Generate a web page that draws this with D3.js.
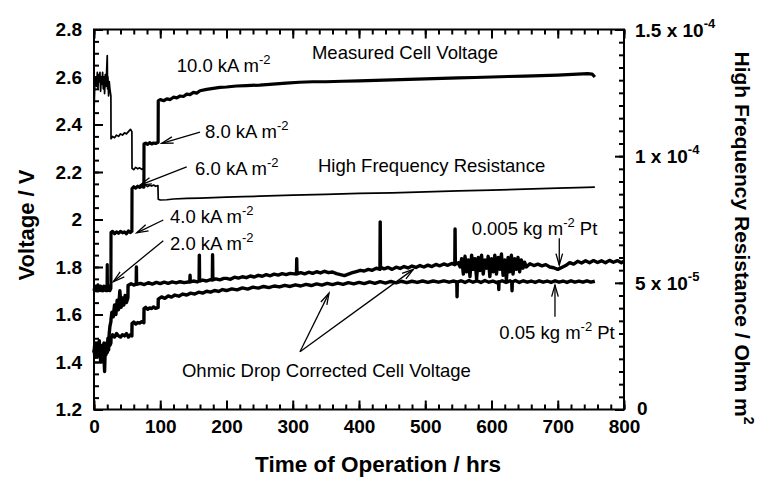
<!DOCTYPE html>
<html>
<head>
<meta charset="utf-8">
<script src="https://cdn.jsdelivr.net/npm/d3@7"></script>
<style>
  html, body { margin: 0; padding: 0; background: #fff; }
  svg { display: block; font-family: "Liberation Sans", Arial, Helvetica, sans-serif; }
</style>
</head>
<body>
<svg id="chart" width="762" height="478"></svg>
<script>
// ---- Axis ticks and labels ----
const hourTicks = [0, 100, 200, 300, 400, 500, 600, 700, 800];
const hourTickLabels = ["0", "100", "200", "300", "400", "500", "600", "700", "800"];
const voltTicks = [1.2, 1.4, 1.6, 1.8, 2.0, 2.2, 2.4, 2.6, 2.8];
const voltTickLabels = ["1.2", "1.4", "1.6", "1.8", "2", "2.2", "2.4", "2.6", "2.8"];
// right axis values are in units of 1e-5 Ohm m^2
const hfrTicks = [0, 5, 10, 15];
const hfrTickMantissa = ["0", "5 x 10", "1 x 10", "1.5 x 10"];
const hfrTickExponent = ["", "-5", "-4", "-4"];

// ---- Series: [hours, volts] ----
const measuredCellVoltage = [
  [0,1.70],[1,1.715],[2,1.705],[3,1.72],[4,1.70],[5,1.71],[6,1.725],[7,1.70],[8,1.715],[9,1.705],
  [10,1.72],[11,1.70],[12,1.715],[13,1.71],[14,1.70],[15,1.72],[16,1.705],[17,1.715],[18,1.70],[19,1.72],
  [19.7,1.71],[20,1.81],[20.3,1.70],[21,1.715],[22,1.705],[23,1.72],[24,1.70],[25.5,1.71],
  [25.7,1.945],[28,1.95],[31,1.94],[34,1.948],[37,1.942],[40,1.95],[43,1.944],[46,1.948],[49,1.94],[52,1.952],[55,1.945],[57.2,1.95],
  [57.4,2.13],[60,2.138],[63,2.132],[66,2.14],[69,2.135],[72,2.14],[75.3,2.136],
  [75.5,2.318],[78,2.322],[81,2.316],[84,2.324],[87,2.318],[90,2.322],[93,2.32],[96.8,2.325],
  [97,2.50],[100,2.505],[105,2.50],[110,2.508],[115,2.505],[120,2.515],[125,2.512],[130,2.52],[135,2.518],
  [140,2.528],[145,2.526],[150,2.535],[155,2.532],[160,2.542],[170,2.548],[180,2.552],[190,2.556],[200,2.558],
  [215,2.562],[230,2.564],[250,2.566],[270,2.57],[290,2.574],[310,2.578],[330,2.58],[350,2.58],[375,2.582],
  [400,2.584],[425,2.586],[450,2.588],[475,2.59],[500,2.592],[525,2.594],[550,2.596],[575,2.598],[600,2.60],
  [625,2.602],[650,2.604],[675,2.606],[700,2.608],[715,2.61],[730,2.612],[745,2.614],[752,2.612],[756,2.60]
];

// High frequency resistance: [hours, 1e-5 Ohm m^2]
const highFrequencyResistance = [
  [0,11.72],[0.5,12.19],[1,12.66],[2,12.94],[3,13.13],[4,12.75],[5,13.31],[6,12.66],[7,13.22],[8,12.94],
  [9,13.31],[10,12.56],[11,13.13],[12,12.84],[13,13.31],[14,12.66],[15,13.13],[16,12.47],[17,13.22],[18,12.75],
  [19,13.31],[20,13.97],[20.5,12.66],[21,13.13],[22,12.38],[23,12.94],[24,12.66],[25.5,12.38],
  [25.7,10.69],[28,10.78],[31,10.73],[34,10.83],[37,10.78],[40,10.88],[43,10.83],[46,10.92],[49,10.88],[52,10.97],[55,11.06],[57.2,10.97],
  [57.4,9.52],[60,9.47],[63,9.56],[66,9.50],[69,9.54],[72,9.48],[75.3,9.52],
  [75.5,8.81],[78,8.86],[81,8.80],[84,8.85],[87,8.82],[90,8.86],[93,8.81],[96.5,8.84],
  [97,8.30],[100,8.27],[110,8.28],[120,8.31],[140,8.33],[160,8.34],[180,8.36],[200,8.38],[225,8.40],
  [250,8.42],[275,8.44],[300,8.46],[350,8.49],[400,8.53],[450,8.55],[500,8.59],[550,8.63],[600,8.66],
  [650,8.70],[700,8.74],[730,8.76],[756,8.78]
];

// Ohmic-drop corrected cell voltage, 0.05 kg m^-2 Pt
const correctedHighPt = [
  [0,1.44],[1,1.47],[2,1.42],[3,1.46],[4,1.45],[5,1.48],[6,1.43],[7,1.46],[8,1.44],[9,1.47],
  [10,1.40],[11,1.45],[12,1.43],[13,1.44],[14,1.47],[15,1.42],[16,1.36],[17,1.46],[18,1.45],[19,1.48],
  [20,1.44],[21,1.47],[22,1.45],[23,1.49],[24,1.47],[25.5,1.48],
  [25.7,1.50],[28,1.515],[31,1.505],[34,1.52],[37,1.51],[40,1.505],[43,1.515],[46,1.51],[49,1.52],[52,1.505],[55,1.515],[57.2,1.51],
  [57.4,1.562],[60,1.568],[63,1.56],[66,1.566],[69,1.564],[72,1.57],[75.3,1.565],
  [75.5,1.625],[78,1.63],[81,1.622],[84,1.628],[87,1.625],[90,1.632],[93,1.626],[96.8,1.63],
  [97,1.665],[102,1.674],[107,1.668],[112,1.678],[117,1.673],[122,1.682],[128,1.677],[134,1.686],
  [140,1.682],[146,1.69],[152,1.686],[158,1.694],[164,1.69],[170,1.698],[176,1.694],[182,1.701],
  [188,1.697],[194,1.705],[200,1.701],[208,1.708],[216,1.704],[224,1.712],[232,1.707],[240,1.715],
  [248,1.711],[256,1.718],[264,1.713],[272,1.72],[280,1.716],[288,1.723],[296,1.718],[304,1.725],
  [312,1.72],[320,1.727],[328,1.722],[336,1.729],[344,1.724],[352,1.731],[360,1.726],[368,1.732],
  [376,1.727],[384,1.734],[392,1.729],[400,1.735],[408,1.73],[416,1.737],[424,1.731],[432,1.738],
  [440,1.732],[448,1.739],[456,1.733],[464,1.74],[472,1.734],[480,1.74],[488,1.735],[496,1.741],
  [504,1.735],[512,1.741],[520,1.736],[528,1.742],[536,1.736],[542,1.741],[547.6,1.737],[548,1.675],
  [548.4,1.736],[554,1.742],[560,1.735],[566,1.743],[572,1.736],[578,1.742],[584,1.735],[590,1.743],
  [596,1.736],[602,1.741],[608,1.734],[610.6,1.738],[611,1.705],[611.4,1.737],[616,1.742],[622,1.735],
  [628,1.742],[630.6,1.736],[631,1.70],[631.4,1.737],[636,1.743],[642,1.735],[648,1.742],[654,1.736],
  [660,1.741],[666,1.735],[672,1.742],[678,1.736],[684,1.741],[690,1.735],[696,1.742],[702,1.736],
  [708,1.741],[714,1.735],[720,1.742],[726,1.736],[732,1.741],[738,1.736],[744,1.742],[750,1.736],[756,1.74]
];

// Ohmic-drop corrected cell voltage, 0.005 kg m^-2 Pt
const correctedLowPt = [
  [0,1.45],[1,1.43],[2,1.48],[3,1.44],[4,1.47],[5,1.42],[6,1.46],[7,1.45],[8,1.49],[9,1.43],
  [10,1.46],[11,1.44],[12,1.47],[13,1.45],[14,1.42],[15,1.48],[16,1.44],[17,1.46],[18,1.43],[19,1.47],
  [20,1.45],[21,1.50],[22,1.48],[23,1.52],[24,1.55],[25.5,1.57],
  [25.7,1.58],[27,1.61],[29,1.59],[31,1.64],[33,1.60],[35,1.66],[37,1.62],[39,1.70],[41,1.63],[43,1.67],
  [45,1.64],[47,1.68],[49,1.65],[51.2,1.67],
  [51.4,1.722],[56,1.73],[60,1.724],[63.7,1.728],[64,1.80],[64.3,1.727],[70,1.731],[76,1.726],[82,1.734],
  [88,1.728],[94,1.735],[100,1.73],[106,1.736],[112,1.731],[118,1.737],[124,1.733],[130,1.738],[136,1.734],
  [144.6,1.738],[145,1.765],[145.4,1.737],[150,1.741],[156,1.737],[158.6,1.742],[159,1.85],[159.4,1.741],
  [164,1.745],[170,1.741],[176,1.747],[178.6,1.745],[179,1.852],[179.4,1.746],[184,1.75],[190,1.746],[196,1.752],
  [200,1.752],[206,1.748],[212,1.757],[218,1.753],[224,1.759],[230,1.755],[236,1.762],[242,1.758],
  [248,1.765],[254,1.761],[260,1.768],[266,1.763],[272,1.77],[278,1.766],[284,1.772],[290,1.768],
  [296,1.773],[305.6,1.77],[306,1.835],[306.4,1.771],[312,1.776],[318,1.771],[324,1.778],[330,1.773],
  [336,1.78],[342,1.775],[348,1.782],[354,1.776],[360,1.779],[366,1.772],[372,1.768],[378,1.764],
  [384,1.77],[390,1.776],[396,1.781],[402,1.786],[408,1.783],[414,1.79],[420,1.786],[426,1.795],
  [431.6,1.79],[432,1.99],[432.4,1.80],[438,1.792],[444,1.798],[450,1.79],[456,1.799],[462,1.794],
  [468,1.802],[474,1.796],[480,1.804],[486,1.798],[492,1.806],[498,1.80],[504,1.808],[510,1.802],
  [516,1.811],[522,1.805],[528,1.813],[534,1.807],[540,1.815],[544.6,1.81],[545,1.96],[545.4,1.812],
  [550,1.818],[552.5,1.80],[555,1.835],[557.5,1.77],[560,1.845],[562.5,1.78],[565,1.83],[567.5,1.76],
  [570,1.85],[572.5,1.79],[575,1.835],[577.5,1.75],[580,1.84],[582.5,1.785],[585,1.85],[587.5,1.77],
  [590,1.83],[592.5,1.795],[595,1.845],[597.5,1.76],[600,1.835],[602.5,1.78],[605,1.85],[607.5,1.77],
  [610,1.84],[612.5,1.79],[615,1.855],[617.5,1.765],[620,1.83],[622.5,1.745],[625,1.84],[627.5,1.78],
  [630,1.85],[632.5,1.77],[635,1.835],[637.5,1.79],[640,1.84],[642.5,1.78],[645,1.83],[647.5,1.795],
  [650,1.82],[652.5,1.80],[658,1.814],[664,1.806],[670,1.812],[676,1.805],[682,1.81],[688,1.80],
  [694,1.797],[700,1.79],[706,1.798],[712,1.806],[718,1.818],[724,1.812],[730,1.824],[736,1.817],
  [742,1.826],[748,1.818],[754,1.827],[760,1.819],[766,1.826],[772,1.818],[778,1.828],[784,1.82],
  [790,1.827],[796,1.818],[800,1.824]
];

// ---- Layout ----
const svg = d3.select("#chart");
const frame = { left: 94, right: 624, top: 29.5, bottom: 409.5 };
const FONT = "'Liberation Sans', Arial, Helvetica, sans-serif";

const x = d3.scaleLinear().domain([0, 800]).range([frame.left, frame.right]);
const yV = d3.scaleLinear().domain([1.2, 2.8]).range([frame.bottom, frame.top]);
const yR = d3.scaleLinear().domain([0, 15]).range([frame.bottom, frame.top]);

function styleAxis(g) {
  g.select(".domain").remove();
  g.selectAll(".tick line").attr("stroke", "#000").attr("stroke-width", 2);
  g.selectAll(".tick text")
    .attr("fill", "#000")
    .attr("font-family", FONT)
    .attr("font-size", 19)
    .attr("font-weight", "bold");
}

// minor tick positions
const hourMinor = d3.range(0, 801, 20);
const voltMinor = d3.range(0, 33).map(i => 1.2 + i * 0.05);
const hfrMinor = d3.range(0, 31).map(i => i * 0.5);

// left axis
svg.append("g").attr("transform", `translate(${frame.left},0)`)
  .call(d3.axisLeft(yV).tickValues(voltMinor).tickSize(-5).tickFormat(""))
  .call(styleAxis);
svg.append("g").attr("transform", `translate(${frame.left},0)`)
  .call(d3.axisLeft(yV).tickValues(voltTicks).tickSize(-9).tickPadding(12)
    .tickFormat((d, i) => voltTickLabels[i]))
  .call(styleAxis);

// bottom axis
svg.append("g").attr("transform", `translate(0,${frame.bottom})`)
  .call(d3.axisBottom(x).tickValues(hourMinor).tickSize(-5).tickFormat(""))
  .call(styleAxis);
svg.append("g").attr("transform", `translate(0,${frame.bottom})`)
  .call(d3.axisBottom(x).tickValues(hourTicks).tickSize(-9).tickPadding(10)
    .tickFormat((d, i) => hourTickLabels[i]))
  .call(styleAxis);

// top axis (ticks only)
svg.append("g").attr("transform", `translate(0,${frame.top})`)
  .call(d3.axisTop(x).tickValues(hourMinor).tickSize(-5).tickFormat(""))
  .call(styleAxis);
svg.append("g").attr("transform", `translate(0,${frame.top})`)
  .call(d3.axisTop(x).tickValues(hourTicks).tickSize(-9).tickFormat(""))
  .call(styleAxis);

// right axis
svg.append("g").attr("transform", `translate(${frame.right},0)`)
  .call(d3.axisRight(yR).tickValues(hfrMinor).tickSize(-5).tickFormat(""))
  .call(styleAxis);
svg.append("g").attr("transform", `translate(${frame.right},0)`)
  .call(d3.axisRight(yR).tickValues(hfrTicks).tickSize(-9).tickFormat(""))
  .call(styleAxis);

hfrTicks.forEach((v, i) => {
  const t = svg.append("text")
    .attr("x", frame.right + (v === 0 ? 13 : 11))
    .attr("y", yR(v) + (v === 0 ? 5 : 7))
    .attr("font-family", FONT).attr("font-size", 19).attr("font-weight", "bold")
    .attr("fill", "#000");
  t.append("tspan").text(hfrTickMantissa[i]);
  if (hfrTickExponent[i]) {
    t.append("tspan").attr("dy", -9).attr("font-size", 13).text(hfrTickExponent[i]);
  }
});

// frame
svg.append("rect")
  .attr("x", frame.left).attr("y", frame.top)
  .attr("width", frame.right - frame.left).attr("height", frame.bottom - frame.top)
  .attr("fill", "none").attr("stroke", "#000").attr("stroke-width", 2);

// axis titles
svg.append("text")
  .attr("x", 378).attr("y", 472)
  .attr("text-anchor", "middle")
  .attr("font-family", FONT).attr("font-size", 22.5).attr("font-weight", "bold")
  .text("Time of Operation / hrs");

svg.append("text")
  .attr("transform", `translate(34,225) rotate(-90)`)
  .attr("text-anchor", "middle")
  .attr("font-family", FONT).attr("font-size", 22).attr("font-weight", "bold")
  .text("Voltage / V");

const rTitle = svg.append("text")
  .attr("transform", `translate(735,238) rotate(90)`)
  .attr("text-anchor", "middle")
  .attr("font-family", FONT).attr("font-size", 21).attr("font-weight", "bold");
rTitle.append("tspan").text("High Frequency Resistance / Ohm m");
rTitle.append("tspan").attr("dy", -9).attr("font-size", 14).text("2");

// ---- Series lines ----
const lineV = d3.line().x(d => x(d[0])).y(d => yV(d[1]));
const lineR = d3.line().x(d => x(d[0])).y(d => yR(d[1]));

const plotArea = svg.append("g");
plotArea.append("path").datum(highFrequencyResistance).attr("d", lineR)
  .attr("fill", "none").attr("stroke", "#000").attr("stroke-width", 1.7).attr("stroke-linejoin", "round");
plotArea.append("path").datum(correctedHighPt).attr("d", lineV)
  .attr("fill", "none").attr("stroke", "#000").attr("stroke-width", 3.4).attr("stroke-linejoin", "round");
plotArea.append("path").datum(correctedLowPt).attr("d", lineV)
  .attr("fill", "none").attr("stroke", "#000").attr("stroke-width", 3.4).attr("stroke-linejoin", "round");
plotArea.append("path").datum(measuredCellVoltage).attr("d", lineV)
  .attr("fill", "none").attr("stroke", "#000").attr("stroke-width", 3.2).attr("stroke-linejoin", "round");

// ---- Annotations (positions in hours / volts) ----
const notes = svg.append("g")
  .attr("font-family", FONT).attr("font-size", 18.5).attr("fill", "#000");

function richLabel(hrs, volts, parts) {
  const t = notes.append("text").attr("x", x(hrs)).attr("y", yV(volts));
  parts.forEach(p => {
    if (p.sup) {
      t.append("tspan").attr("dy", -8).attr("font-size", 13).text(p.t);
    } else if (p.after) {
      t.append("tspan").attr("dy", 8).text(p.t);
    } else {
      t.append("tspan").text(p.t);
    }
  });
}

function arrow(h1, v1, h2, v2) {
  const x1 = x(h1), y1 = yV(v1), x2 = x(h2), y2 = yV(v2);
  notes.append("line").attr("x1", x1).attr("y1", y1).attr("x2", x2).attr("y2", y2)
    .attr("stroke", "#000").attr("stroke-width", 1.3);
  const a = Math.atan2(y2 - y1, x2 - x1), L = 12, s = 0.28;
  const p1 = [x2 - L * Math.cos(a - s), y2 - L * Math.sin(a - s)];
  const p2 = [x2 - L * Math.cos(a + s), y2 - L * Math.sin(a + s)];
  notes.append("path")
    .attr("d", `M${p1[0]},${p1[1]}L${x2},${y2}L${p2[0]},${p2[1]}`)
    .attr("fill", "none").attr("stroke", "#000").attr("stroke-width", 1.3);
}

richLabel(329, 2.677, [{ t: "Measured Cell Voltage" }]);
richLabel(124.8, 2.623, [{ t: "10.0 kA m" }, { t: "-2", sup: true }]);
richLabel(167.5, 2.343, [{ t: "8.0 kA m" }, { t: "-2", sup: true }]);
richLabel(152.5, 2.187, [{ t: "6.0 kA m" }, { t: "-2", sup: true }]);
richLabel(338, 2.201, [{ t: "High Frequency Resistance" }]);
richLabel(114.7, 1.985, [{ t: "4.0 kA m" }, { t: "-2", sup: true }]);
richLabel(114.7, 1.872, [{ t: "2.0 kA m" }, { t: "-2", sup: true }]);
richLabel(570, 1.935, [{ t: "0.005 kg m" }, { t: "-2", sup: true }, { t: " Pt", after: true }]);
richLabel(611.8, 1.497, [{ t: "0.05 kg m" }, { t: "-2", sup: true }, { t: " Pt", after: true }]);
richLabel(132.8, 1.337, [{ t: "Ohmic Drop Corrected Cell Voltage" }]);

arrow(160, 2.368, 102.2, 2.321);
arrow(139.9, 2.222, 69.4, 2.145);
arrow(104.6, 1.998, 64.5, 1.944);
arrow(104.6, 1.911, 29.1, 1.738);
arrow(702.3, 1.921, 702.3, 1.808);
arrow(695.8, 1.591, 695.8, 1.724);
arrow(310.9, 1.443, 354.7, 1.690);
arrow(310.9, 1.443, 482, 1.790);
</script>
</body>
</html>
